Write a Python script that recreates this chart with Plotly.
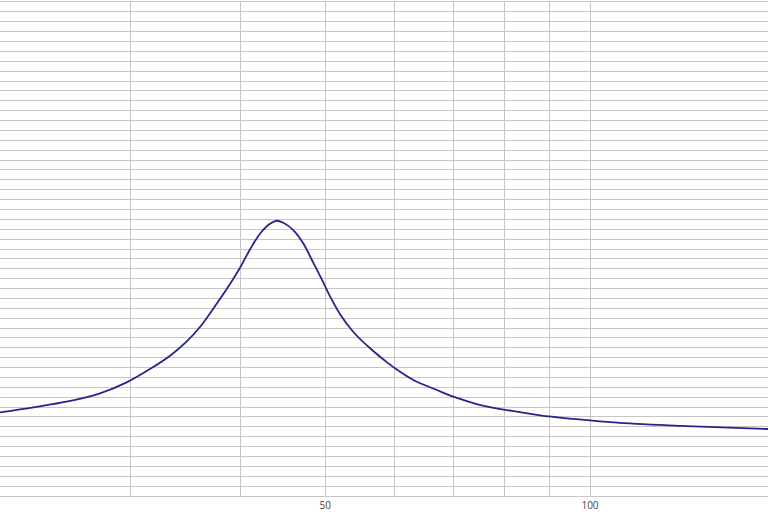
import plotly.graph_objects as go

# Frequency (Hz) and impedance-like values (grid units)
freq = [21.33, 23.28, 25.40, 27.72, 29.72, 31.59, 33.30, 34.79, 36.01, 37.62,
        38.96, 39.99, 41.05, 42.14, 43.26, 44.02, 44.79, 45.98, 47.21, 48.46,
        49.75, 50.63, 51.97, 53.81, 56.22, 58.73, 60.29, 62.97, 66.94, 69.92,
        74.32, 76.95, 80.40, 87.74, 95.72, 108.19, 126.56, 159.4]
value = [8.47, 8.98, 9.54, 10.39, 11.50, 12.85, 14.20, 15.65, 17.10, 19.45,
         21.45, 23.10, 24.95, 26.55, 27.55, 27.86, 27.66, 26.92, 25.55, 23.60,
         21.60, 20.20, 18.40, 16.60, 14.95, 13.55, 12.80, 11.74, 10.73, 10.05,
         9.31, 9.00, 8.70, 8.15, 7.80, 7.40, 7.10, 6.78]

x_grid = [30, 40, 50, 60, 70, 80, 90, 100]
x_labels = ["", "", "50", "", "", "", "", "100"]
y_range = [0, 50]

fig = go.Figure()
fig.add_trace(go.Scatter(
    x=freq, y=value, mode="lines",
    line=dict(color="#26268a", width=1.8, shape="spline", smoothing=0.9),
    hoverinfo="skip", showlegend=False,
))

fig.update_layout(
    width=768, height=512,
    margin=dict(l=0, r=0, t=2, b=16),
    paper_bgcolor="white", plot_bgcolor="white",
    font=dict(family="Open Sans, Noto Sans, sans-serif", size=10, color="#444"),
    xaxis=dict(
        type="log", range=[1.32902, 2.20243],
        tickvals=x_grid, ticktext=x_labels,
        showgrid=True, gridcolor="#c6c6c6", gridwidth=1,
        zeroline=False, showline=True, linecolor="#c6c6c6", mirror=True,
        ticks="", ticklabelstandoff=0,
    ),
    yaxis=dict(
        range=y_range, dtick=1, showticklabels=False,
        showgrid=True, gridcolor="#c6c6c6", gridwidth=1,
        zeroline=False, showline=False, ticks="",
    ),
)

fig.write_html("out.html", config={"displayModeBar": False},
               post_script="document.body.style.margin='0';document.body.style.overflow='hidden';")
